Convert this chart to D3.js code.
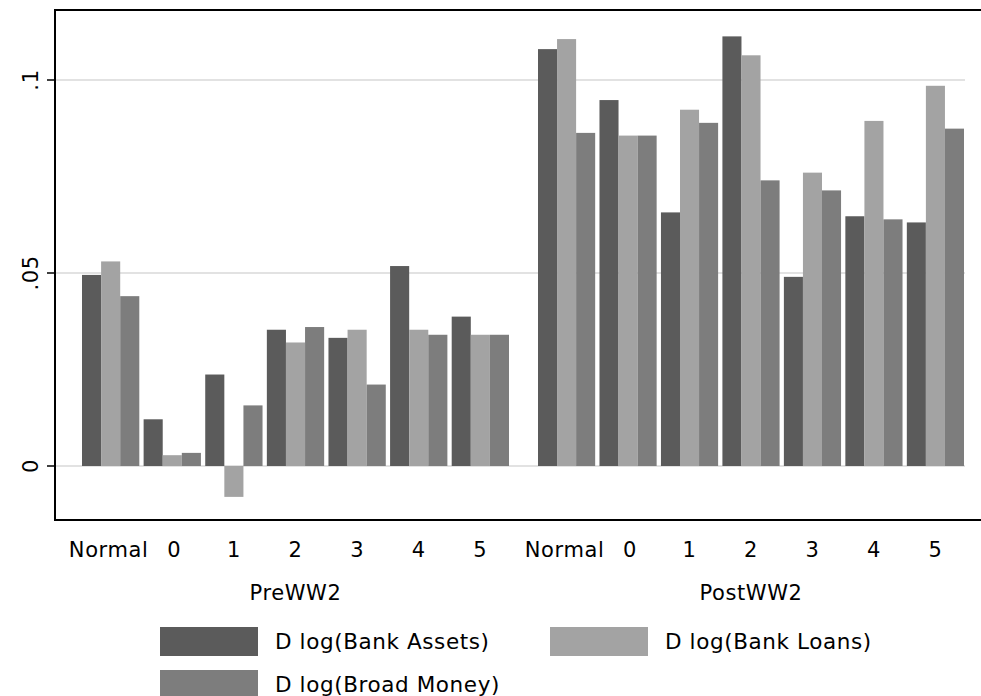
<!DOCTYPE html>
<html><head><meta charset="utf-8">
<script src="https://cdn.jsdelivr.net/npm/d3@7"></script>
<style>body{margin:0;background:#fff}text{font-family:"DejaVu Sans",sans-serif;letter-spacing:0.6px}</style>
</head><body><svg id="c" width="981" height="696"></svg>
<script>
const categories = ['Normal', '0', '1', '2', '3', '4', '5'];
const groups = ['PreWW2', 'PostWW2'];
const series = ['D log(Bank Assets)', 'D log(Bank Loans)', 'D log(Broad Money)'];
const colors = ['#5b5b5b', '#a3a3a3', '#7d7d7d'];
const preAssets = [0.0495, 0.0121, 0.0237, 0.0353, 0.0332, 0.0518, 0.0387];
const preLoans  = [0.053, 0.0028, -0.008, 0.032, 0.0353, 0.0353, 0.034];
const preMoney  = [0.044, 0.0034, 0.0157, 0.036, 0.0211, 0.034, 0.034];
const postAssets = [0.108, 0.0948, 0.0657, 0.1113, 0.049, 0.0647, 0.0631];
const postLoans  = [0.1106, 0.0856, 0.0923, 0.1064, 0.076, 0.0894, 0.0985];
const postMoney  = [0.0863, 0.0856, 0.0889, 0.074, 0.0714, 0.0639, 0.0874];
const yTicks = [0, 0.05, 0.1];

const data = [[preAssets, preLoans, preMoney], [postAssets, postLoans, postMoney]];
const svg = d3.select('#c');
const y = d3.scaleLinear().domain([0, 0.1]).range([466, 80]);
const groupRanges = [[82, 509], [538, 964]];

// grid
svg.selectAll('.grid').data(yTicks).enter().append('line')
  .attr('x1', 55).attr('x2', 965).attr('y1', d => y(d)).attr('y2', d => y(d))
  .attr('stroke', '#d9d9d9').attr('stroke-width', 1.5);

groups.forEach((gname, gi) => {
  const x = d3.scaleBand().domain(categories).range(groupRanges[gi]).paddingInner(0.07).paddingOuter(0);
  const xs = d3.scaleBand().domain(d3.range(3)).range([0, x.bandwidth()]);
  categories.forEach((c, ci) => {
    for (let s = 0; s < 3; s++) {
      const v = data[gi][s][ci];
      svg.append('rect')
        .attr('x', x(c) + xs(s)).attr('width', xs.bandwidth())
        .attr('y', Math.min(y(v), y(0))).attr('height', Math.abs(y(v) - y(0)))
        .attr('fill', colors[s]);
    }
    svg.append('text').attr('x', x(c) + x.bandwidth() / 2 - (c === 'Normal' ? 2 : c === '0' ? -2 : 0)).attr('y', 557)
      .attr('text-anchor', 'middle').attr('font-size', 21).text(c);
  });
  svg.append('text').attr('x', d3.mean(groupRanges[gi])).attr('y', 600)
    .attr('text-anchor', 'middle').attr('font-size', 21).text(gname);
});

// frame
svg.append('path').attr('d', 'M985,10H55V520H985').attr('fill', 'none').attr('stroke', '#000').attr('stroke-width', 2);
svg.selectAll('.tk').data(yTicks).enter().append('line')
  .attr('x1', 47).attr('x2', 55).attr('y1', d => y(d)).attr('y2', d => y(d)).attr('stroke', '#000').attr('stroke-width', 1.5);
svg.selectAll('.tl').data(yTicks).enter().append('text')
  .attr('transform', d => `translate(38,${y(d)}) rotate(-90)`)
  .attr('text-anchor', 'middle').attr('font-size', 21)
  .text(d => d === 0 ? '0' : d3.format('.2~f')(d).replace(/^0/, ''));

// legend
const legPos = [[160, 627], [550, 627], [160, 670]];
series.forEach((s, i) => {
  svg.append('rect').attr('x', legPos[i][0]).attr('y', legPos[i][1]).attr('width', 98).attr('height', 29).attr('fill', colors[i]);
  svg.append('text').attr('x', legPos[i][0] + 115).attr('y', legPos[i][1] + 22).attr('font-size', 21.5).text(s);
});
</script></body></html>
